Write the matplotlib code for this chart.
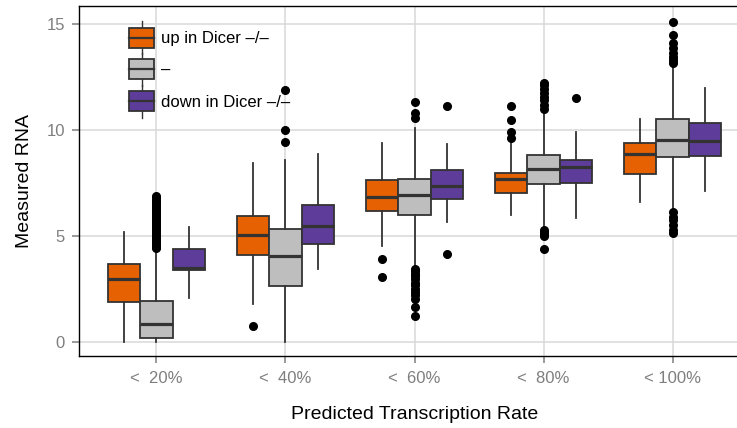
import matplotlib
matplotlib.use("Agg")
import matplotlib.pyplot as plt
from matplotlib.legend_handler import HandlerBase
from matplotlib.lines import Line2D
from matplotlib.patches import Patch, Rectangle

plt.rcParams['font.family'] = ['Liberation Sans', 'DejaVu Sans']

categories = ['<  20%', '<  40%', '<  60%', '<  80%', '< 100%']
series = ['up in Dicer \u2013/\u2013', '\u2013', 'down in Dicer \u2013/\u2013']
colors = ['#E66101', '#BEBEBE', '#5E3C99']

# box statistics per rate bin: whisker low, q1, median, q3, whisker high
up_lo = [0.0, 1.79, 4.54, 5.99, 6.62]
up_q1 = [1.90, 4.09, 6.19, 7.01, 7.91]
up_med = [2.96, 5.05, 6.85, 7.67, 8.87]
up_q3 = [3.66, 5.96, 7.64, 7.99, 9.37]
up_hi = [5.17, 8.43, 9.40, 9.37, 10.50]
up_out = [[], [0.75], [3.05, 3.92], [9.61, 9.92, 10.47, 11.13], []]

mid_lo = [0.0, 0.0, 3.55, 5.45, 6.20]
mid_q1 = [0.19, 2.63, 5.99, 7.44, 8.74]
mid_med = [0.83, 4.06, 6.93, 8.16, 9.53]
mid_q3 = [1.95, 5.32, 7.67, 8.82, 10.52]
mid_hi = [4.40, 8.58, 10.08, 10.95, 13.15]
mid_out = [
    [4.45, 4.5, 4.56, 4.62, 4.68, 4.74, 4.8, 4.86, 4.92, 4.98, 5.04, 5.1,
     5.16, 5.22, 5.28, 5.34, 5.4, 5.46, 5.52, 5.58, 5.64, 5.7, 5.76, 5.82,
     5.88, 5.94, 6.0, 6.06, 6.12, 6.18, 6.24, 6.3, 6.36, 6.42, 6.48, 6.55,
     6.62, 6.7, 6.78, 6.87],
    [9.42, 10.0, 11.89],
    [1.25, 1.65, 2.05, 2.2, 2.35, 2.5, 2.7, 2.8, 2.95, 3.1, 3.2, 3.35, 3.45,
     10.55, 10.78, 11.33],
    [4.37, 5.0, 5.1, 5.2, 5.3, 11.0, 11.2, 11.4, 11.55, 11.75, 11.95, 12.1,
     12.2],
    [5.13, 5.28, 5.52, 5.75, 5.91, 6.15, 13.18, 13.3, 13.46, 13.62, 13.85,
     14.09, 14.48, 15.08],
]

down_lo = [2.09, 3.43, 5.68, 5.83, 7.14]
down_q1 = [3.38, 4.61, 6.76, 7.49, 8.79]
down_med = [3.50, 5.49, 7.36, 8.27, 9.48]
down_q3 = [4.39, 6.48, 8.11, 8.58, 10.35]
down_hi = [5.44, 8.85, 9.32, 9.92, 11.97]
down_out = [[], [], [4.15, 11.13], [11.49], []]

stats_by_series = [
    (up_lo, up_q1, up_med, up_q3, up_hi, up_out),
    (mid_lo, mid_q1, mid_med, mid_q3, mid_hi, mid_out),
    (down_lo, down_q1, down_med, down_q3, down_hi, down_out),
]


class BoxKeyHandler(HandlerBase):
    """Legend key drawn as a small boxplot glyph."""

    def create_artists(self, legend, orig_handle, xdescent, ydescent,
                       width, height, fontsize, trans):
        x0 = -xdescent
        # centre the glyph on the middle of the label text
        cy = 0.33 * fontsize
        h = height + ydescent
        whisker = Line2D([x0 + width / 2] * 2, [cy - h / 2, cy + h / 2],
                         color='#333333', lw=1.0, transform=trans)
        box = Rectangle((x0, cy - h * 0.3), width, h * 0.6,
                        facecolor=orig_handle.get_facecolor(),
                        edgecolor='#333333', lw=1.3, transform=trans)
        med = Line2D([x0, x0 + width], [cy, cy],
                     color='#333333', lw=1.6, transform=trans)
        return [whisker, box, med]


fig = plt.figure(figsize=(7.37, 4.28), dpi=100)
ax = fig.add_axes([79 / 737, 1 - 356 / 428, 671 / 737, 350 / 428])

width = 0.25
offsets = [-0.25, 0.0, 0.25]
for (lo, q1, med, q3, hi, out), color, off in zip(stats_by_series, colors, offsets):
    stats = []
    for i in range(len(categories)):
        stats.append({'whislo': lo[i], 'q1': q1[i], 'med': med[i],
                      'q3': q3[i], 'whishi': hi[i], 'fliers': out[i]})
    positions = [i + 1 + off for i in range(len(categories))]
    ax.bxp(stats, positions=positions, widths=width, showcaps=False,
           patch_artist=True, manage_ticks=False,
           boxprops=dict(facecolor=color, edgecolor='#333333', linewidth=1.3),
           medianprops=dict(color='#333333', linewidth=2.3),
           whiskerprops=dict(color='#333333', linewidth=1.3),
           flierprops=dict(marker='o', markerfacecolor='black',
                           markeredgecolor='black', markersize=5.5),
           zorder=3)

ax.set_xlim(0.4, 5.6)
ax.set_ylim(-0.66, 15.85)
ax.set_xticks(range(1, len(categories) + 1))
ax.set_xticklabels(categories)
ax.set_yticks([0, 5, 10, 15])

ax.grid(True, color='#d9d9d9', linewidth=1.1, zorder=0)
ax.set_axisbelow(True)
ax.tick_params(axis='both', colors='#7f7f7f', labelsize=12, length=5,
               width=1.1, pad=6)
ax.tick_params(axis='y', pad=5)

for side in ['left', 'top', 'bottom']:
    ax.spines[side].set_color('black')
    ax.spines[side].set_linewidth(1.0)
ax.spines['right'].set_visible(False)

ax.set_xlabel('Predicted Transcription Rate', fontsize=14, labelpad=14)
ax.set_ylabel('Measured RNA', fontsize=14, labelpad=10)

handles = [Patch(facecolor=c) for c in colors]
ax.legend(handles, series, handler_map={Patch: BoxKeyHandler()},
          loc='upper left', bbox_to_anchor=(129 / 737, 1 - 25 / 428),
          bbox_transform=fig.transFigure, frameon=False, fontsize=12,
          borderpad=0, borderaxespad=0, handlelength=1.5, handleheight=2.0,
          labelspacing=0.36, handletextpad=0.42)

fig.savefig('out.png', dpi=100)
